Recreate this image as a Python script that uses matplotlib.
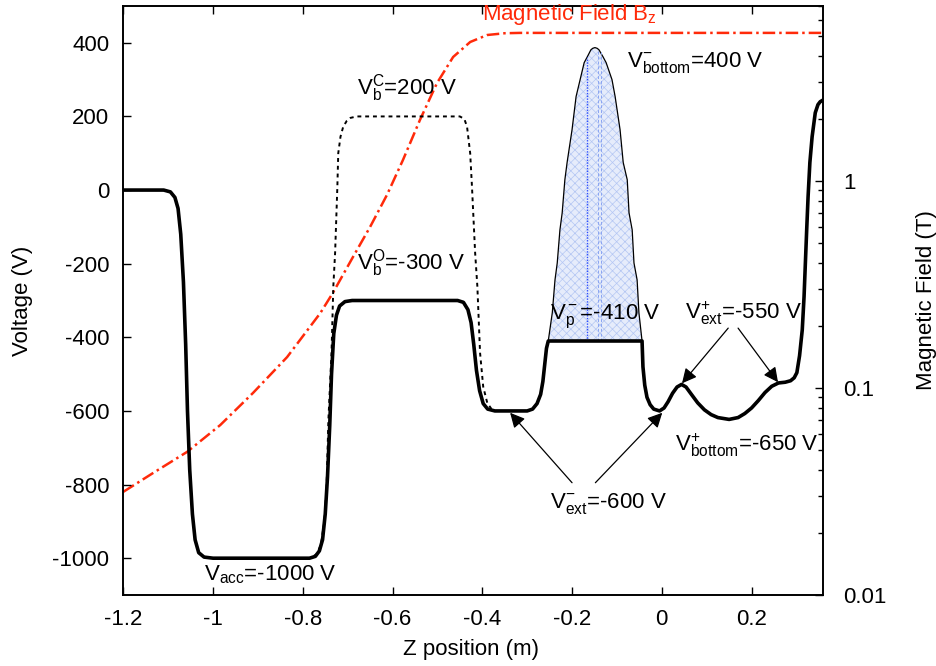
import matplotlib
matplotlib.use("Agg")
import matplotlib.pyplot as plt
import numpy as np
from matplotlib.ticker import FixedLocator, FixedFormatter, LogLocator, NullFormatter

plt.rcParams['font.family'] = ['Liberation Sans', 'DejaVu Sans']
plt.rcParams['mathtext.fontset'] = 'custom'
plt.rcParams['mathtext.rm'] = 'Liberation Sans'
plt.rcParams['mathtext.it'] = 'Liberation Sans'
plt.rcParams['mathtext.default'] = 'regular'
plt.rcParams['axes.unicode_minus'] = False
plt.rcParams['hatch.linewidth'] = 0.5

FS = 16

# ---------------- data ----------------
# solid potential (open configuration)
solid_z = [-1.200, -1.110, -1.095, -1.085, -1.078, -1.072, -1.066, -1.061, -1.057, -1.052,
           -1.046, -1.040, -1.032, -1.020, -1.000,
           -0.785, -0.772, -0.763, -0.756, -0.750, -0.745, -0.740, -0.736, -0.731, -0.725,
           -0.718, -0.706, -0.690,
           -0.455, -0.442, -0.432, -0.425, -0.419, -0.413, -0.406, -0.398, -0.388, -0.372,
           -0.300, -0.288, -0.278, -0.270, -0.265, -0.261, -0.257, -0.253,
           -0.044, -0.042, -0.038, -0.033, -0.026, -0.018, -0.005, 0.005, 0.014, 0.024,
           0.034, 0.044, 0.054, 0.066, 0.080, 0.095, 0.110, 0.125, 0.150, 0.170, 0.185,
           0.200, 0.215, 0.230, 0.245, 0.260, 0.275, 0.287, 0.295, 0.301, 0.307, 0.313,
           0.317, 0.320, 0.323, 0.326, 0.330, 0.335, 0.342, 0.348, 0.353, 0.360]
solid_v = [0, 0, -5, -20, -50, -120, -250, -420, -600, -760,
           -880, -950, -985, -997, -1000,
           -1000, -995, -980, -950, -880, -780, -640, -500, -390, -340,
           -315, -303, -300,
           -300, -305, -325, -360, -420, -490, -545, -580, -595, -600,
           -600, -595, -580, -555, -520, -475, -430, -410,
           -410, -480, -530, -563, -583, -595, -600, -592, -575, -552,
           -535, -528, -535, -555, -578, -597, -610, -618, -623, -618, -607,
           -592, -572, -550, -533, -524, -522, -518, -510, -496, -450, -380,
           -290, -197, -105, -18, 75, 145, 210, 232, 240, 245]

# dotted potential (closed barrier, 200 V)
dot_z = [-1.200, -1.110, -1.095, -1.085, -1.078, -1.072, -1.066, -1.061, -1.057, -1.052,
         -1.046, -1.040, -1.032, -1.020, -1.000, -0.785, -0.770, -0.760, -0.752, -0.747,
         -0.743, -0.736, -0.732, -0.728, -0.723, -0.721, -0.716, -0.710, -0.702, -0.694,
         -0.680, -0.450, -0.440, -0.434, -0.427, -0.423, -0.416, -0.411, -0.405, -0.398,
         -0.389, -0.380, -0.372]
dot_v = [0, 0, -5, -20, -50, -120, -250, -420, -600, -760,
         -880, -950, -985, -997, -1000, -1000, -990, -965, -900, -806,
         -625, -442, -262, -170, 9, 100, 145, 172, 188, 196,
         200, 200, 193, 172, 100, 9, -170, -262, -442, -534,
         -578, -594, -600]

# trapped-particle parabola
trap_z = [-0.253, -0.244, -0.238, -0.233, -0.227, -0.222, -0.216, -0.211, -0.200, -0.191,
          -0.182, -0.173, -0.166, -0.158, -0.154, -0.149, -0.144, -0.140, -0.131, -0.124,
          -0.111, -0.104, -0.093, -0.086, -0.077, -0.073, -0.066, -0.062, -0.055, -0.051, -0.044]
trap_v = [-410, -333, -244, -198, -108, -62, 28, 75, 164, 254,
          300, 346, 362, 381, 385, 387, 385, 381, 362, 346,
          300, 254, 164, 75, 28, -62, -108, -198, -244, -333, -410]
trap_floor = -410
vline_z = [-0.166, -0.142, -0.135]
vline_top = [362, 380, 374]

# magnetic field Bz (T)
b_z = [-1.200, -1.134, -1.058, -0.984, -0.911, -0.835, -0.761, -0.733, -0.688, -0.650,
       -0.612, -0.577, -0.539, -0.501, -0.465, -0.427, -0.389, -0.350, -0.316, 0.360]
b_val = [0.0315, 0.0388, 0.0491, 0.0662, 0.0946, 0.141, 0.230, 0.288, 0.430, 0.600,
         0.86, 1.26, 1.97, 2.97, 3.97, 4.69, 5.07, 5.17, 5.19, 5.19]

x_ticks = [-1.2, -1.0, -0.8, -0.6, -0.4, -0.2, 0.0, 0.2]
x_labels = ['-1.2', '-1', '-0.8', '-0.6', '-0.4', '-0.2', '0', '0.2']
y_ticks = [-1000, -800, -600, -400, -200, 0, 200, 400]
b_ticks = [0.01, 0.1, 1]
b_labels = ['0.01', '0.1', '1']

# annotations: (text, z, V)
labels = [
    (r'V$_b^C$=200 V', -0.679, 278),
    (r'V$_b^O$=-300 V', -0.679, -198),
    (r'V$_{bottom}^{-}$=400 V', -0.077, 346),
    (r'V$_p^-$=-410 V', -0.249, -344),
    (r'V$_{ext}^{+}$=-550 V', 0.052, -334),
    (r'V$_{ext}^{-}$=-600 V', -0.249, -851),
    (r'V$_{bottom}^{+}$=-650 V', 0.030, -692),
    (r'V$_{acc}$=-1000 V', -1.020, -1045),
]
arrows = [  # (start z, start V, end z, end V)
    (0.148, -375, 0.045, -525),
    (0.170, -375, 0.259, -522),
    (-0.200, -795, -0.338, -605),
    (-0.148, -795, 0.001, -605),
]

RED = '#ff2a0a'

fig = plt.figure(figsize=(9.37, 6.66), dpi=100)
ax = fig.add_axes([0.1316, 0.1066, 0.7471, 0.8844])
ax2 = ax.twinx()
ax.set_zorder(ax2.get_zorder() + 1)
ax.patch.set_visible(False)

# magnetic field on log axis
ax2.plot(b_z, b_val, color=RED, lw=1.8, linestyle=(0, (5, 1.6, 1, 1.6)))
ax2.set_yscale('log')
ax2.set_ylim(0.01, 7)
ax2.yaxis.set_major_locator(FixedLocator(b_ticks))
ax2.yaxis.set_major_formatter(FixedFormatter(b_labels))
ax2.yaxis.set_minor_locator(LogLocator(base=10, subs=np.arange(2, 10)))
ax2.yaxis.set_minor_formatter(NullFormatter())
ax2.tick_params(axis='y', which='major', direction='in', length=6, width=1, labelsize=FS, pad=14)
ax2.tick_params(axis='y', which='minor', direction='in', length=3.5, width=1)
ax2.set_ylabel('Magnetic Field (T)', fontsize=FS, rotation=90)
ax2.yaxis.set_label_coords(1.132, 0.5)

# trapped region
ax.fill_between(trap_z, trap_floor, trap_v, facecolor='#e6ecfb', edgecolor='#b4c6f3',
                hatch='xxxx', linewidth=0, zorder=1)
ax.plot(trap_z, trap_v, color='black', lw=0.9, zorder=2)
ax.plot([vline_z[0]] * 2, [trap_floor, vline_top[0]], color='#2b4cff', lw=1.0, ls=(0, (1, 1)), zorder=2)
for z, top in zip(vline_z[1:], vline_top[1:]):
    ax.plot([z, z], [trap_floor, top], color='#8aa4f2', lw=0.7, ls=(0, (3, 2)), zorder=2)

# potentials
ax.plot(dot_z, dot_v, color='black', lw=1.4, ls=(0, (2, 2)), zorder=3)
ax.plot(solid_z, solid_v, color='black', lw=2.6, zorder=4, solid_joinstyle='round')

ax.set_xlim(-1.2, 0.36)
ax.set_ylim(-1100, 500)
ax.set_xticks(x_ticks)
ax.set_xticklabels(x_labels)
ax.set_yticks(y_ticks)
ax.tick_params(axis='both', direction='in', length=6, width=1, labelsize=FS)
ax.tick_params(axis='x', top=True, pad=10)
ax.tick_params(axis='y', right=False, pad=10)
for sp in ax.spines.values():
    sp.set_linewidth(1.2)
for sp in ax2.spines.values():
    sp.set_linewidth(1.2)

ax.set_xlabel('Z position (m)', fontsize=FS)
ax.xaxis.set_label_coords(0.497, -0.075)
ax.set_ylabel('Voltage (V)', fontsize=FS)
ax.yaxis.set_label_coords(-0.129, 0.5)

for txt, z, v in labels:
    ax.text(z, v, txt, fontsize=FS, ha='left', va='center', zorder=6)
for z0, v0, z1, v1 in arrows:
    ax.annotate('', xy=(z1, v1), xytext=(z0, v0),
                arrowprops=dict(arrowstyle='-|>', color='black', lw=0.9,
                                mutation_scale=22, shrinkA=0, shrinkB=0), zorder=6)

ax.text(-0.400, 476, r'Magnetic Field B$_z$', color=RED, fontsize=FS, ha='left', va='center', zorder=6)

fig.savefig('out.png', dpi=100)
